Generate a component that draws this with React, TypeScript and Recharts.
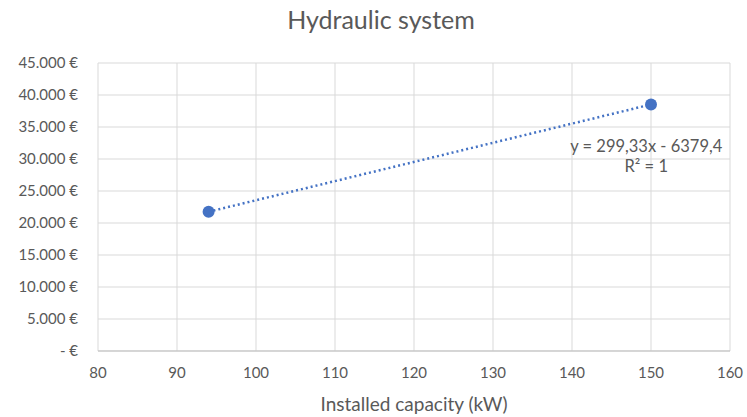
import React from "react";
import {
  CartesianGrid,
  ReferenceDot,
  Scatter,
  ScatterChart,
  XAxis,
  YAxis,
} from "recharts";

// measured points: installed capacity (kW) vs. cost (€)
const capacity = [94, 150];
const cost = [21760, 38520];

// linear trendline as printed on the chart
const slope = 299.33;
const intercept = -6379.4;

const xTicks = [80, 90, 100, 110, 120, 130, 140, 150, 160];
const yTicks = [0, 5000, 10000, 15000, 20000, 25000, 30000, 35000, 40000, 45000];

const points = capacity.map((x, i) => ({ x, y: cost[i] }));
const trend = capacity.map((x) => ({ x, y: slope * x + intercept }));

const FONT = "Lato, 'Noto Sans', sans-serif";
const GREY = "#595959";
const BLUE = "#4472C4";

const euro = (v: number) =>
  v === 0 ? "-   €" : v.toString().replace(/\B(?=(\d{3})+(?!\d))/g, ".") + " €";

function EquationLabel(props: any) {
  const { viewBox } = props;
  const cx = viewBox.x;
  const cy = viewBox.y;
  return (
    <g fontFamily={FONT} fontSize={16.5} fill={GREY} textAnchor="middle">
      <text x={cx} y={cy + 5}>y = 299,33x - 6379,4</text>
      <text x={cx} y={cy + 25}>R² = 1</text>
    </g>
  );
}

const Dot = (props: any) => <circle cx={props.cx} cy={props.cy} r={6} fill={BLUE} />;

export default function App() {
  return (
    <div style={{ position: "absolute", left: 0, top: 0, width: 747, height: 417, background: "#fff" }}>
      <div
        style={{
          position: "absolute",
          top: 4,
          width: 762,
          textAlign: "center",
          fontFamily: FONT,
          fontSize: 25,
          color: GREY,
        }}
      >
        Hydraulic system
      </div>
      <ScatterChart
        width={747}
        height={417}
        margin={{ top: 63, right: 17, bottom: 4, left: 0 }}
        style={{ position: "absolute", left: 0, top: 0 }}
      >
        <CartesianGrid stroke="#d9d9d9" strokeWidth={1} />
        <XAxis
          type="number"
          dataKey="x"
          domain={[80, 160]}
          ticks={xTicks}
          tickLine={false}
          axisLine={{ stroke: "#bfbfbf" }}
          tick={{ fill: GREY, fontSize: 15, fontFamily: FONT }}
          tickMargin={10}
          height={62}
          label={{
            value: "Installed capacity (kW)",
            position: "insideBottom",
            offset: 2,
            fill: GREY,
            fontSize: 19,
            fontFamily: FONT,
          }}
        />
        <YAxis
          type="number"
          dataKey="y"
          domain={[0, 45000]}
          ticks={yTicks}
          tickLine={false}
          axisLine={false}
          tickSize={0}
          tickMargin={20}
          width={98}
          tickFormatter={euro}
          tick={{ fill: GREY, fontSize: 15, fontFamily: FONT }}
        />
        <Scatter
          data={trend}
          line={{ stroke: BLUE, strokeWidth: 2.5, strokeDasharray: "2 3" }}
          shape={() => <g />}
          isAnimationActive={false}
        />
        <Scatter data={points} fill={BLUE} shape={Dot} isAnimationActive={false} />
        <ReferenceDot x={149.4} y={31900} r={0} label={<EquationLabel />} />
      </ScatterChart>
    </div>
  );
}
